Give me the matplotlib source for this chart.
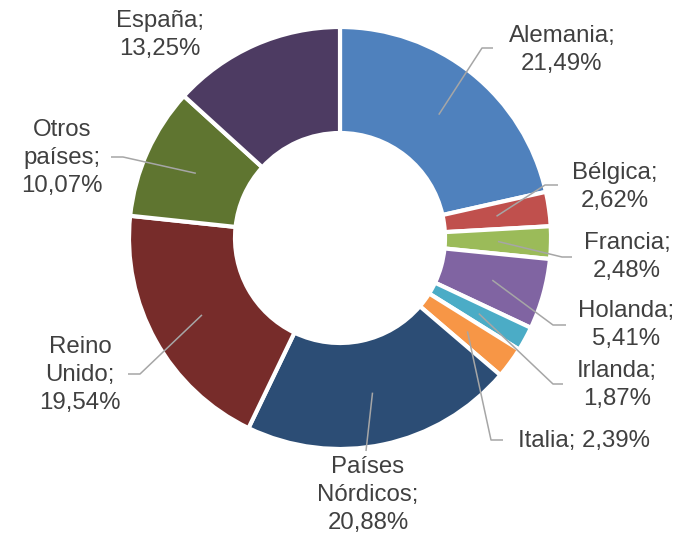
import numpy as np
import matplotlib
matplotlib.use("Agg")
import matplotlib.pyplot as plt

# ---- data ----
categories = ["Alemania", "Bélgica", "Francia", "Holanda", "Irlanda", "Italia",
              "Países Nórdicos", "Reino Unido", "Otros países", "España"]
values = [21.49, 2.62, 2.48, 5.41, 1.87, 2.39, 20.88, 19.54, 10.07, 13.25]
labels = ["Alemania;\n21,49%", "Bélgica;\n2,62%", "Francia;\n2,48%",
          "Holanda;\n5,41%", "Irlanda;\n1,87%", "Italia; 2,39%",
          "Países\nNórdicos;\n20,88%", "Reino\nUnido;\n19,54%",
          "Otros\npaíses;\n10,07%", "España;\n13,25%"]

# ---- styles / layout (pixel coords, y from top) ----
colors = ["#4F81BD", "#C0504D", "#9BBB59", "#8064A2", "#4BACC6", "#F79646",
          "#2C4D75", "#772C2A", "#5F7530", "#4D3B62"]
W, H = 688, 535
cx, cy = 340, 238
R_out, R_in = 211, 105
label_pos = [(562, 50), (615, 187), (627, 257), (626, 325), (617, 385),
             (584, 441), (368, 495), (80, 375), (62, 158), (160, 35)]
# elbow point and horizontal end of leader lines (None -> no leader)
elbows = [((482, 48), (493, 48)), ((545, 185), (558, 185)),
          ((562, 257), (572, 257)), ((553, 325), (566, 325)),
          ((553, 384), (563, 384)), ((491, 440), (503, 440)),
          ((366, 451), None), ((140, 374), (128, 374)),
          ((123, 157), (111, 157)), None]

plt.rcParams['font.family'] = ['Liberation Sans', 'DejaVu Sans']

fig = plt.figure(figsize=(W / 100, H / 100), dpi=100)
ax = fig.add_axes([0, 0, 1, 1])

def py(y):
    return H - y

ax.pie(values, colors=colors, startangle=90, counterclock=False,
       center=(cx, py(cy)), radius=R_out,
       wedgeprops=dict(width=R_out - R_in, edgecolor="white", linewidth=3))

ax.set_xlim(0, W)
ax.set_ylim(0, H)
ax.set_aspect("equal")
ax.axis("off")

# leader lines
total = sum(values)
cum = 0.0
r_mid = (R_out + R_in) / 2
for i, v in enumerate(values):
    mid = (cum + v / 2) / total * 2 * np.pi
    cum += v
    if elbows[i] is None:
        continue
    sx = cx + r_mid * np.sin(mid)
    sy = cy - r_mid * np.cos(mid)
    (ex, ey), end = elbows[i]
    xs = [sx, ex]
    ys = [sy, ey]
    if end is not None:
        xs.append(end[0])
        ys.append(end[1])
    ax.plot(xs, [py(y) for y in ys], color="#A6A6A6", lw=1.1,
            solid_capstyle="butt")

for lab, (lx, ly) in zip(labels, label_pos):
    ax.text(lx, py(ly), lab, ha="center", va="center", multialignment="center",
            fontsize=17.3, color="#404040", linespacing=1.38)

fig.savefig("out.png", dpi=100)
